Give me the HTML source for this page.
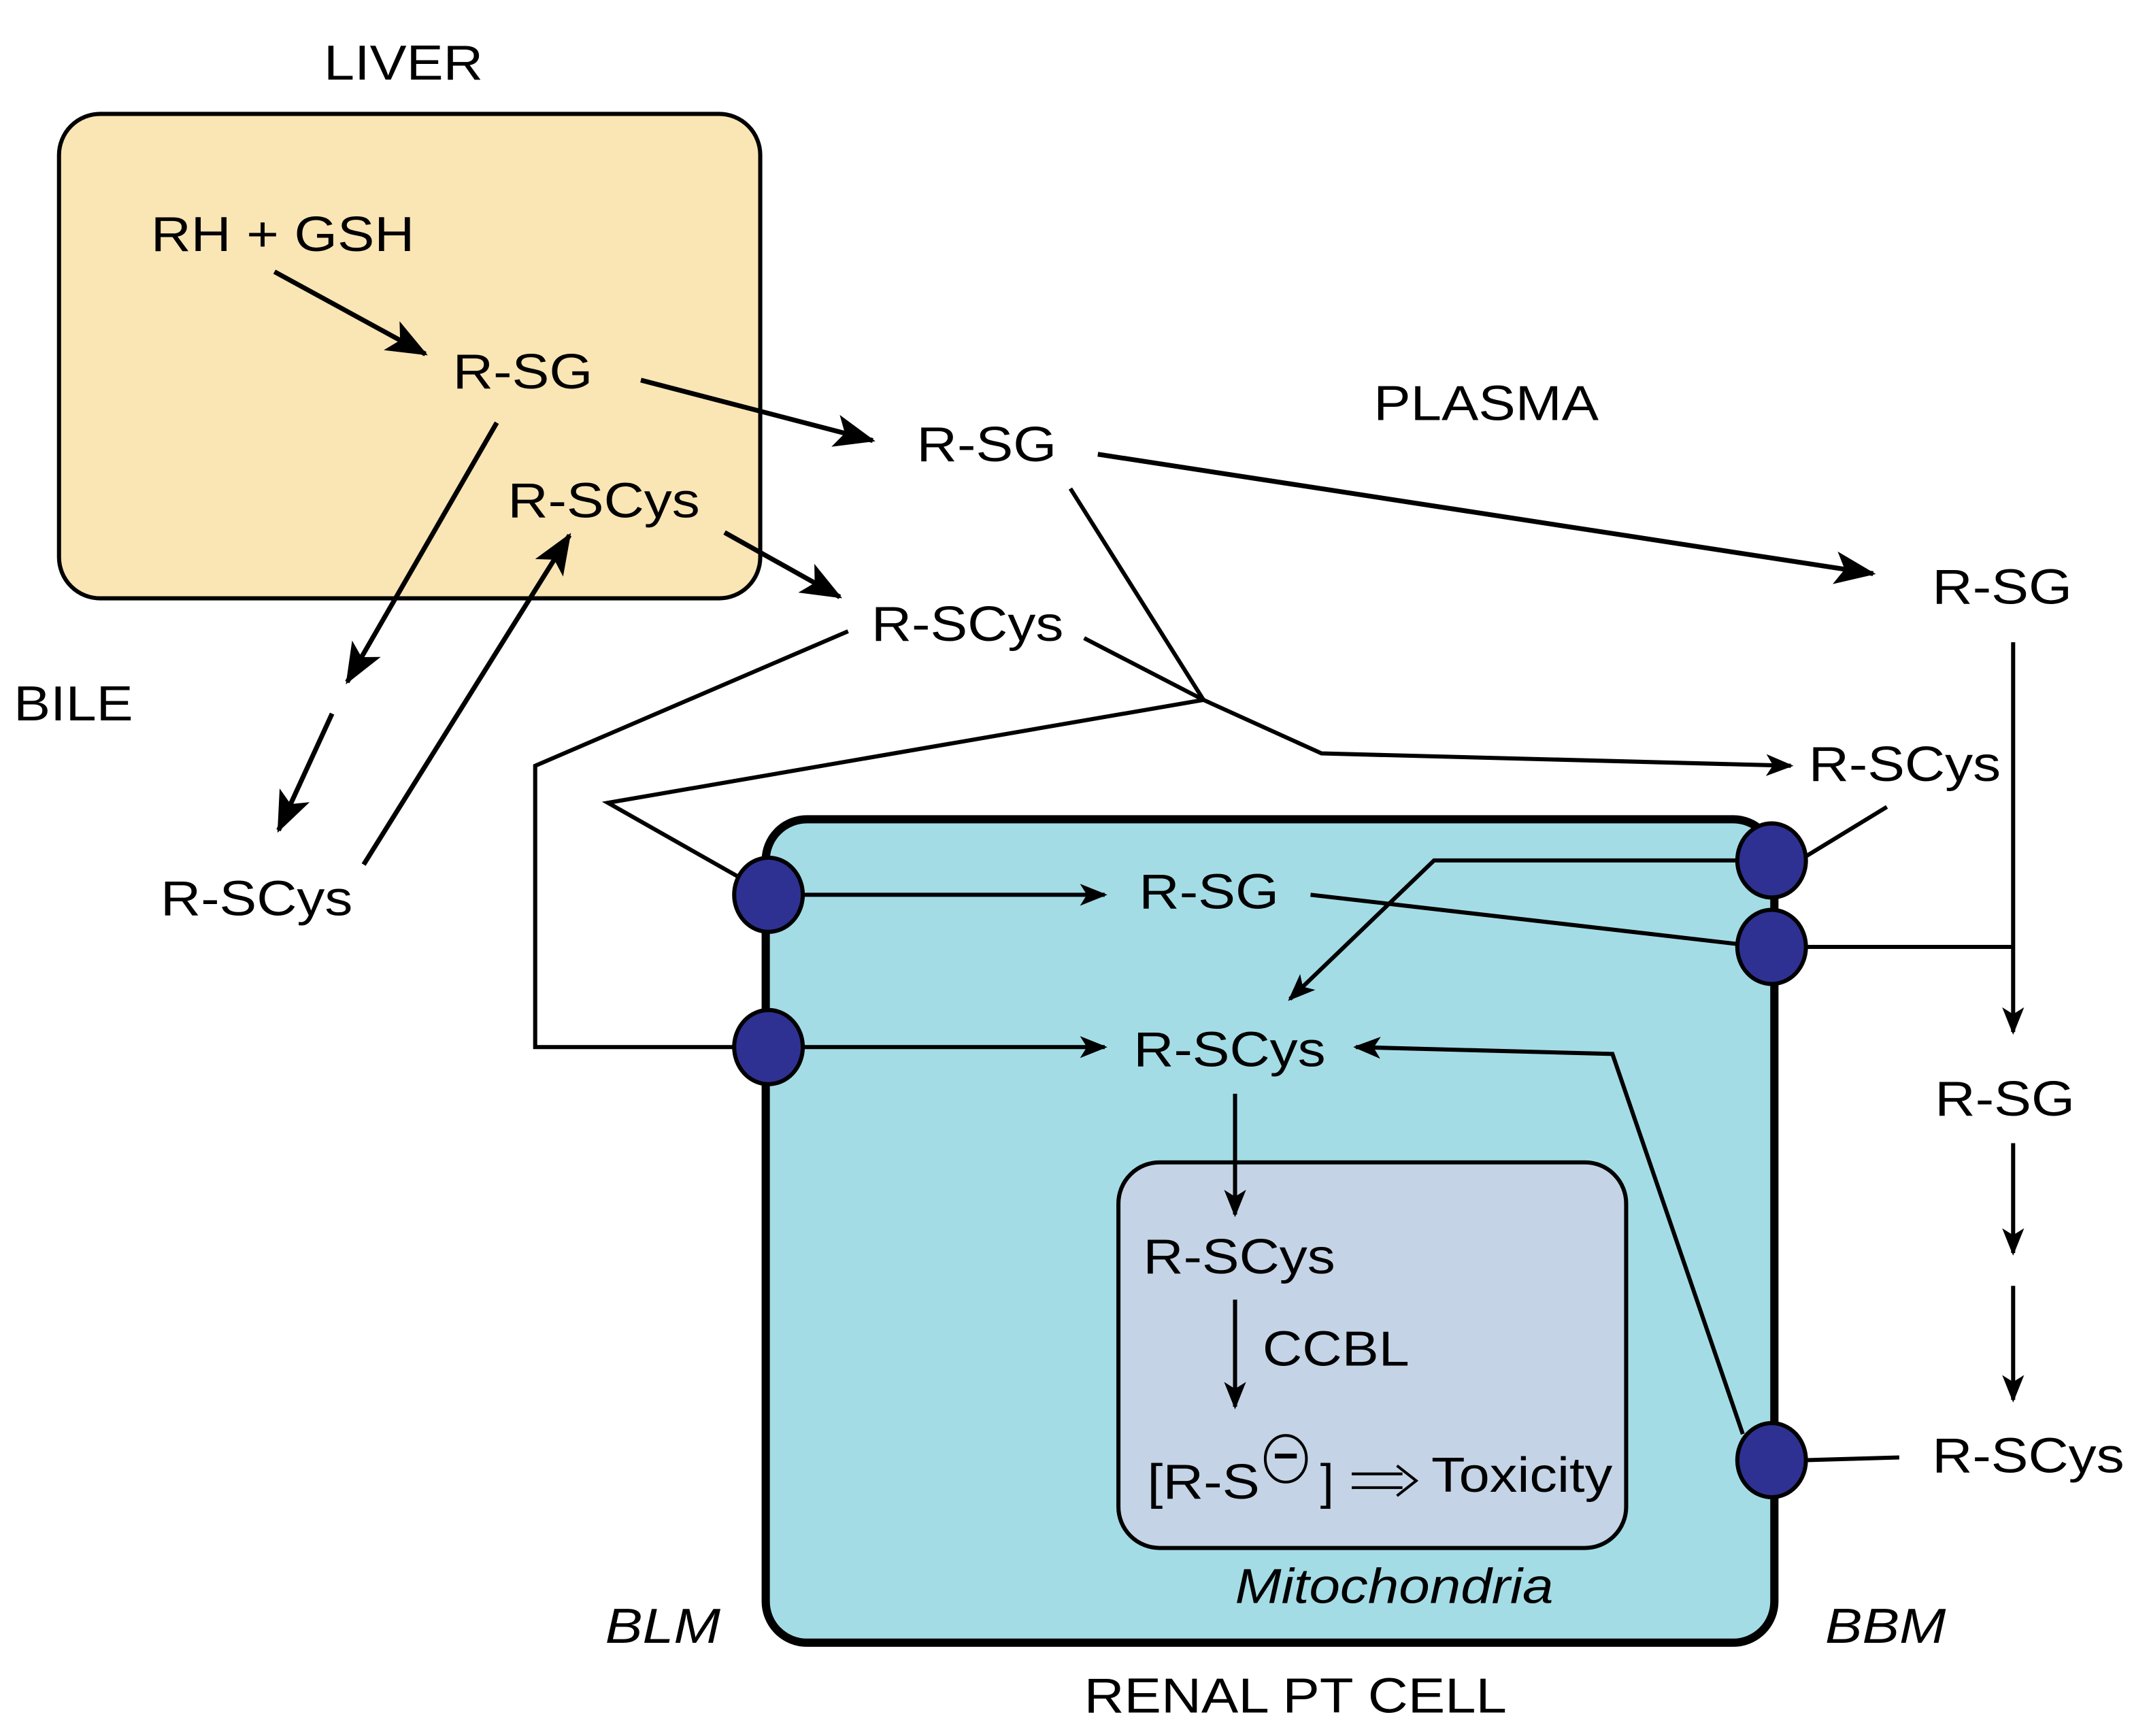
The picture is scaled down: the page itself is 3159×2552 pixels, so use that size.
<!DOCTYPE html>
<html><head><meta charset="utf-8"><style>html,body{margin:0;padding:0;background:#fff}svg{display:block}</style></head>
<body>
<svg width="3159" height="2552" viewBox="0 0 1566 1265" preserveAspectRatio="none" xmlns="http://www.w3.org/2000/svg" font-family="Liberation Sans, Arial, sans-serif" font-size="36">
<defs>
<marker id="a" viewBox="0 0 20 16" refX="18" refY="8" markerWidth="20" markerHeight="16" markerUnits="userSpaceOnUse" orient="auto"><path d="M0,0 L20,8 L0,16 L5,8 Z" fill="#000"/></marker>
<marker id="b" viewBox="0 0 30 24" refX="28" refY="12" markerWidth="30" markerHeight="24" markerUnits="userSpaceOnUse" orient="auto"><path d="M0,0 L30,12 L0,24 L7,12 Z" fill="#000"/></marker>
</defs>
<rect x="0" y="0" width="1566" height="1265" fill="#fff"/>
<rect x="43" y="83" width="511" height="353" rx="30" fill="#FAE5B5" stroke="#000" stroke-width="3"/>
<rect x="558" y="597" width="735" height="600" rx="30" fill="#A4DCE6" stroke="#000" stroke-width="6"/>
<rect x="815" y="847" width="370" height="281" rx="30" fill="#C4D4E6" stroke="#000" stroke-width="3"/>

<g fill="none" stroke="#000" stroke-width="3.5">
<line x1="200" y1="198" x2="310" y2="258" marker-end="url(#b)"/>
<line x1="467" y1="277" x2="636" y2="321" marker-end="url(#b)"/>
<line x1="800" y1="331" x2="1365" y2="418" marker-end="url(#b)"/>
<line x1="362" y1="308" x2="253" y2="497" marker-end="url(#b)"/>
<line x1="242" y1="520" x2="203" y2="605" marker-end="url(#b)"/>
<line x1="265" y1="630" x2="415" y2="390" marker-end="url(#b)"/>
<line x1="528" y1="388" x2="612" y2="435" marker-end="url(#b)"/>
</g>
<g fill="none" stroke="#000" stroke-width="3">
<polyline points="618,460 390,558 390,763 535,763"/>
<line x1="780" y1="356" x2="877" y2="510"/>
<line x1="790" y1="465" x2="877" y2="510"/>
<polyline points="877,510 963,549 1305,558" marker-end="url(#a)"/>
<polyline points="877,510 443,585 540,640"/>
<line x1="1467" y1="468" x2="1467" y2="752" marker-end="url(#a)"/>
<line x1="1316" y1="690" x2="1467" y2="690"/>
<line x1="1467" y1="833" x2="1467" y2="913" marker-end="url(#a)"/>
<line x1="1467" y1="937" x2="1467" y2="1020" marker-end="url(#a)"/>
<line x1="585" y1="652" x2="805" y2="652" marker-end="url(#a)"/>
<line x1="585" y1="763" x2="805" y2="763" marker-end="url(#a)"/>
<line x1="1316" y1="624" x2="1375" y2="588"/>
<polyline points="1267,627 1045,627 940,728" marker-end="url(#a)"/>
<line x1="955" y1="652" x2="1267" y2="688"/>
<polyline points="1270,1045 1175,768 988,763" marker-end="url(#a)"/>
<line x1="1316" y1="1064" x2="1384" y2="1062"/>
<line x1="900" y1="797" x2="900" y2="885" marker-end="url(#a)"/>
<line x1="900" y1="947" x2="900" y2="1025" marker-end="url(#a)"/>
</g>
<g fill="#2E3192" stroke="#000" stroke-width="3">
<ellipse cx="560" cy="652" rx="25" ry="27"/>
<ellipse cx="560" cy="763" rx="25" ry="27"/>
<ellipse cx="1291" cy="627" rx="25" ry="27"/>
<ellipse cx="1291" cy="690" rx="25" ry="27"/>
<ellipse cx="1291" cy="1064" rx="25" ry="27"/>
</g>
<g fill="#000">
<text x="236" y="58" textLength="116" lengthAdjust="spacingAndGlyphs">LIVER</text>
<text x="110" y="183" textLength="192" lengthAdjust="spacingAndGlyphs">RH + GSH</text>
<text x="330" y="283" textLength="102" lengthAdjust="spacingAndGlyphs">R-SG</text>
<text x="370" y="377" textLength="140" lengthAdjust="spacingAndGlyphs">R-SCys</text>
<text x="668" y="336" textLength="102" lengthAdjust="spacingAndGlyphs">R-SG</text>
<text x="1001" y="306" textLength="164" lengthAdjust="spacingAndGlyphs">PLASMA</text>
<text x="1408" y="440" textLength="102" lengthAdjust="spacingAndGlyphs">R-SG</text>
<text x="10" y="525" textLength="87" lengthAdjust="spacingAndGlyphs">BILE</text>
<text x="635" y="467" textLength="140" lengthAdjust="spacingAndGlyphs">R-SCys</text>
<text x="117" y="667" textLength="140" lengthAdjust="spacingAndGlyphs">R-SCys</text>
<text x="1318" y="569" textLength="140" lengthAdjust="spacingAndGlyphs">R-SCys</text>
<text x="830" y="662" textLength="102" lengthAdjust="spacingAndGlyphs">R-SG</text>
<text x="826" y="777" textLength="140" lengthAdjust="spacingAndGlyphs">R-SCys</text>
<text x="1410" y="813" textLength="102" lengthAdjust="spacingAndGlyphs">R-SG</text>
<text x="1408" y="1073" textLength="140" lengthAdjust="spacingAndGlyphs">R-SCys</text>
<text x="833" y="928" textLength="140" lengthAdjust="spacingAndGlyphs">R-SCys</text>
<text x="920" y="995" textLength="107" lengthAdjust="spacingAndGlyphs">CCBL</text>
<text x="836" y="1092" textLength="82" lengthAdjust="spacingAndGlyphs">[R-S</text>
<text x="962" y="1092">]</text>
<text x="1043" y="1087" textLength="132" lengthAdjust="spacingAndGlyphs">Toxicity</text>
<text x="900" y="1168" font-style="italic" textLength="232" lengthAdjust="spacingAndGlyphs">Mitochondria</text>
<text x="441" y="1197" font-style="italic" textLength="84" lengthAdjust="spacingAndGlyphs">BLM</text>
<text x="1330" y="1197" font-style="italic" textLength="88" lengthAdjust="spacingAndGlyphs">BBM</text>
<text x="790" y="1248" textLength="308" lengthAdjust="spacingAndGlyphs">RENAL PT CELL</text>
</g>
<ellipse cx="937" cy="1063" rx="15" ry="17" fill="none" stroke="#000" stroke-width="2"/>
<line x1="929" y1="1061" x2="945" y2="1061" stroke="#000" stroke-width="3.5"/>
<g fill="none" stroke="#000" stroke-width="2">
<path d="M985,1074 H1022 M985,1084 H1022 M1018,1068 L1032,1079 L1018,1090"/>
</g>
</svg>
</body></html>
